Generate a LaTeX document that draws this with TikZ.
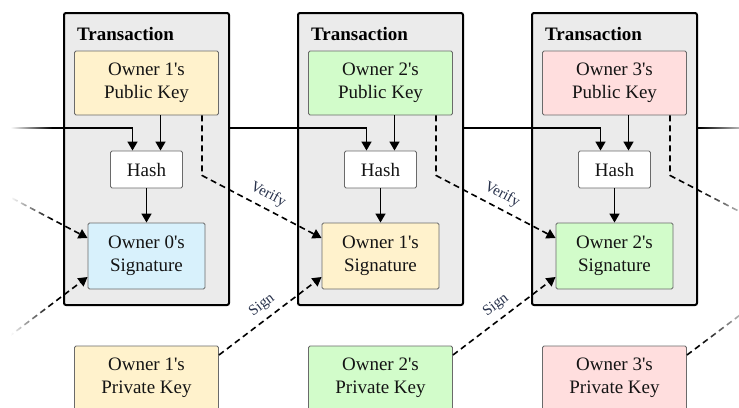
\documentclass[tikz,border=0pt]{standalone}
\usepackage{fontspec}
\setmainfont{Liberation Serif}
\newfontfamily\serf{Liberation Serif}
\usetikzlibrary{arrows.meta,fadings}
\definecolor{txfill}{HTML}{EBEBEB}
\definecolor{ykey}{HTML}{FFF2CC}
\definecolor{gkey}{HTML}{D2FCCA}
\definecolor{bkey}{HTML}{D8F1FC}
\definecolor{pkey}{HTML}{FFDEDE}
\definecolor{edgec}{HTML}{6A6A6A}
\definecolor{labc}{HTML}{26304A}
\tikzfading[name=fadeL, left color=transparent!0, right color=transparent!100]
\tikzfading[name=fadeR, left color=transparent!100, right color=transparent!25]
\begin{document}
\begin{tikzpicture}[x=1pt,y=-1pt,
  txbox/.style={draw=black, line width=2pt, fill=txfill, rounded corners=2pt, inner sep=0pt},
  kbox/.style={draw=edgec, line width=0.9pt, rounded corners=1.5pt, align=center, inner sep=0pt, font=\serf\fontsize{19}{23}\selectfont, text=black!92},
  title/.style={anchor=base west, inner sep=0pt, font=\serf\bfseries\fontsize{19}{23}\selectfont},
  conn/.style={line width=1.6pt, -{Triangle[length=9pt,width=10pt]}},
  plainline/.style={line width=1.6pt},
  dconn/.style={line width=1.6pt, dash pattern=on 6pt off 4pt, -{Triangle[length=9pt,width=10pt]}},
  dashline/.style={line width=1.6pt, dash pattern=on 6pt off 4pt},
  lbl/.style={sloped, above=5pt, font=\serf\fontsize{15}{18}\selectfont, text=labc, inner sep=1pt}
]
\useasboundingbox (0,0) rectangle (739,407);
\clip (0,0) rectangle (739,407);
\foreach \i/\cx/\pc/\sc/\pn/\sn in {1/146.5/ykey/bkey/1/0, 2/380.5/gkey/ykey/2/1, 3/614.5/pkey/gkey/3/2}{
  \node[txbox, minimum width=165, minimum height=292] (tx\i) at (\cx,159) {};
  \node[title] (tt\i) at (\cx-69.5,40) {Transaction};
  \node[kbox, fill=\pc, minimum width=144, minimum height=64] (pub\i) at (\cx,83) {Owner \pn\textquotesingle s\\Public Key};
  \node[kbox, fill=white, minimum width=72, minimum height=37] (hash\i) at (\cx,169.5) {Hash};
  \node[kbox, fill=\sc, minimum width=117, minimum height=66] (sig\i) at (\cx,256) {Owner \sn\textquotesingle s\\Signature};
  \node[kbox, fill=\pc, minimum width=144, minimum height=64] (priv\i) at (\cx,378) {Owner \pn\textquotesingle s\\Private Key};
  \draw[conn] ([xshift=14pt]pub\i.south) -- ([xshift=14pt]hash\i.north);
  \draw[conn] (hash\i) -- (sig\i);
}
% hash chain line
\coordinate (hl) at (0,128);
\coordinate (hr) at (739,128);
\draw[conn] (hl) -| ([xshift=-14pt]hash1.north);
\draw[conn] (tx1.east |- hl) -| ([xshift=-14pt]hash2.north);
\draw[conn] (tx2.east |- hl) -| ([xshift=-14pt]hash3.north);
\draw[plainline] (tx3.east |- hl) -- (hr);
% verify
\coordinate (v0) at (-32,175);
\coordinate (v4) at (790.5,238);
\draw[dconn] (v0) -- ([yshift=18pt]sig1.west);
\draw[dconn] ([xshift=55.5pt]pub1.south) -- ++(0,60) -- node[lbl]{Verify} ([yshift=18pt]sig2.west);
\draw[dconn] ([xshift=55.5pt]pub2.south) -- ++(0,60) -- node[lbl]{Verify} ([yshift=18pt]sig3.west);
\draw[dashline] ([xshift=55.5pt]pub3.south) -- ++(0,60) -- (v4);
% sign
\coordinate (s0) at (-15.5,355);
\coordinate (s4) at (790.5,277);
\draw[dconn] (s0) -- ([yshift=-21pt]sig1.west);
\draw[dconn] ([yshift=23pt]priv1.east) -- node[lbl]{Sign} ([yshift=-21pt]sig2.west);
\draw[dconn] ([yshift=23pt]priv2.east) -- node[lbl]{Sign} ([yshift=-21pt]sig3.west);
\draw[dashline] ([yshift=23pt]priv3.east) -- (s4);
% edge fades
\fill[white] (-2,-2) rectangle (11,409);
\fill[white, path fading=fadeL] (10.5,-2) rectangle (52,409);
\fill[white, path fading=fadeR] (699.5,-2) rectangle (741,409);
\end{tikzpicture}
\end{document}
